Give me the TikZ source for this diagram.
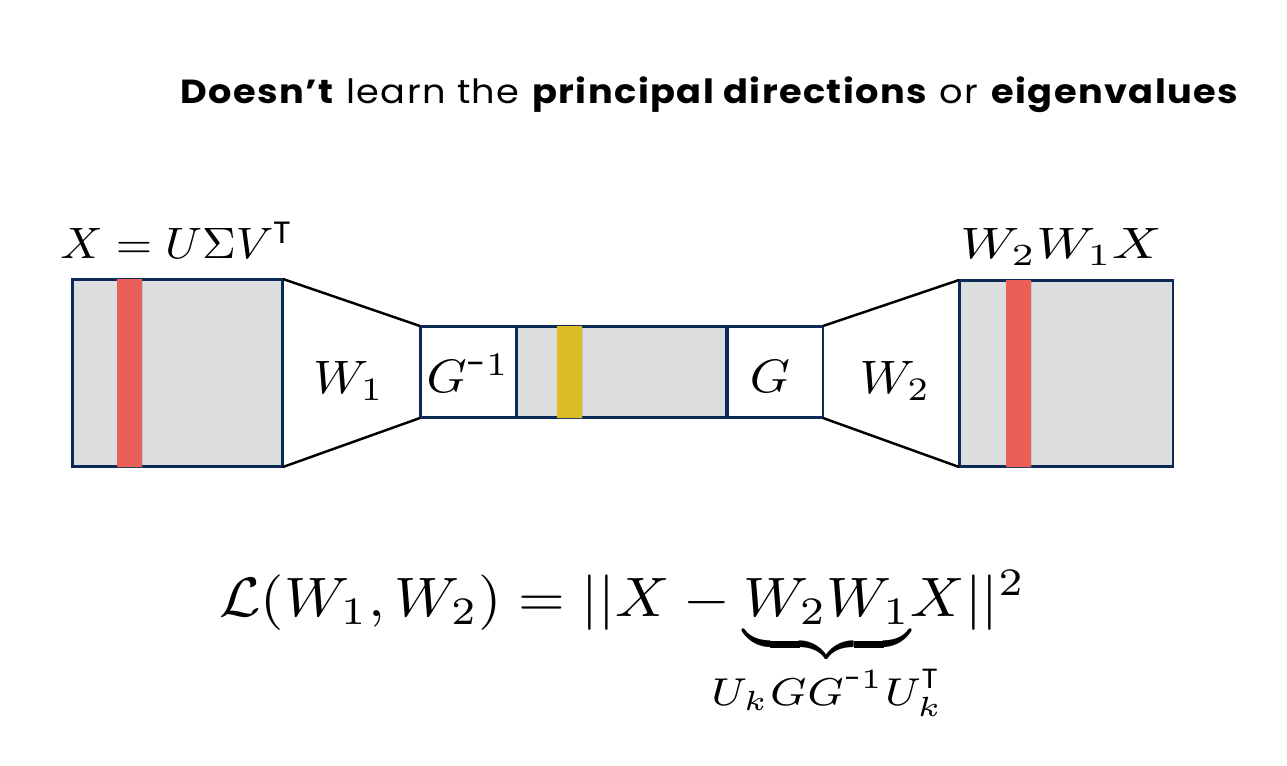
\documentclass[tikz,border=0pt]{standalone}
\usepackage{mathtools}
\usepackage[no-math]{fontspec}
\newfontfamily\titlefont{Poppins}
\usetikzlibrary{calc,shadows}

\definecolor{boxblue}{HTML}{0B2A55}
\definecolor{boxgray}{HTML}{DCDDDF}
\definecolor{colred}{HTML}{EB5F59}
\definecolor{colyellow}{HTML}{DBBE25}

\newcommand{\tpose}{^{\text{\titlefont T}}}
\newcommand{\inv}{^{\text{\titlefont -}1}}

\begin{document}
\begin{tikzpicture}[x=0.02cm,y=-0.02cm,
    matbox/.style={draw=boxblue, line width=1.7pt, fill=boxgray, inner sep=0pt, outer sep=0pt},
    opbox/.style={draw=boxblue, line width=1.7pt, fill=white, inner sep=0pt, outer sep=0pt},
    column/.style={inner sep=0pt, outer sep=0pt, minimum width=0.5cm,
      drop shadow={opacity=0.25, shadow xshift=0.6pt, shadow yshift=-0.8pt}},
    lbl/.style={inner sep=0pt, anchor=base}]
  \useasboundingbox (0,0) rectangle (1287,766);

  \node[anchor=base] (title) at (710,104)
    {\scalebox{1.1}[1]{\titlefont\fontsize{19}{23}\selectfont\addfontfeature{LetterSpace=4}%
      \textbf{Doesn’t} learn the \textbf{principal directions} or \textbf{eigenvalues}}};

  % data in, code, data out
  \node[matbox, minimum width=4.22cm, minimum height=3.76cm] (xin) at (177.5,373) {};
  \node[matbox, minimum width=4.22cm, minimum height=1.84cm] (code) at (621.5,372) {};
  \node[opbox, minimum width=1.92cm, minimum height=1.84cm] (ginv) at (468,372) {};
  \node[opbox, minimum width=1.92cm, minimum height=1.84cm] (gbox) at (775,372) {};
  \node[matbox, minimum width=4.28cm, minimum height=3.74cm] (xout) at (1066,373.5) {};

  \node[column, fill=colred, minimum height=3.76cm] (colin) at (129.5,373) {};
  \node[column, fill=colyellow, minimum height=1.84cm] (colcode) at (569.5,372) {};
  \node[column, fill=colred, minimum height=3.74cm] (colout) at (1018.5,373.5) {};

  \draw[line width=1.4pt] (xin.north east) -- (ginv.north west);
  \draw[line width=1.4pt] (xin.south east) -- (ginv.south west);
  \draw[line width=1.4pt] (gbox.north east) -- (xout.north west);
  \draw[line width=1.4pt] (gbox.south east) -- (xout.south west);

  \node[lbl] (w1) at ($(xin.east)!0.5!(ginv.west)+(-3,21)$) {\scalebox{2.9}[2.67]{$W_1$}};
  \node[lbl] (w2) at ($(gbox.east)!0.5!(xout.west)+(4,21)$) {\scalebox{2.9}[2.67]{$W_2$}};
  \node[lbl] (ginvlbl) at ($(ginv)+(0,21)$) {\scalebox{2.9}[2.67]{$G\inv$}};
  \node[lbl] (glbl) at ($(gbox)+(-5,21)$) {\scalebox{2.9}[2.67]{$G$}};

  \node[anchor=base] (xlbl) at (177,259) {\scalebox{2.66}[2.5]{$X = U\Sigma V\tpose$}};
  \node[anchor=base] (ylbl) at (1061,259) {\scalebox{3.1}[2.5]{$W_2W_1X$}};

  \node[anchor=base] (loss) at (622.5,616)
    {\scalebox{3.42}[3.16]{$\mathcal{L}(W_1, W_2) = ||X - {\underbrace{W_2W_1}_{\mathclap{U_kGG\inv U_k\tpose}}}X||^2$}};
\end{tikzpicture}
\end{document}
